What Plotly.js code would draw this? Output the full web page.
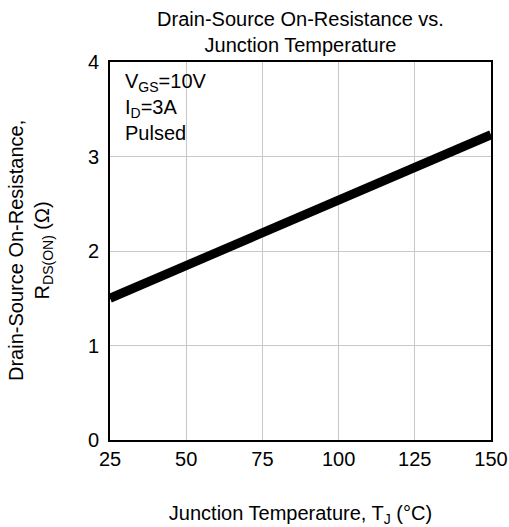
<!DOCTYPE html>
<html><head><meta charset="utf-8">
<script src="https://cdn.plot.ly/plotly-3.0.1.min.js"></script>
<style>body{margin:0;background:#fff}#c{width:509px;height:527px}</style>
</head><body><div id="c"></div>
<script>
const tempC = [25, 150];
const rdsOn = [1.50, 3.23];
const xTicks = [25, 50, 75, 100, 125, 150];
const yTicks = [0, 1, 2, 3, 4];
const F = 'Liberation Sans, Arial, sans-serif';
const FS = 20;
Plotly.newPlot('c', [{
  x: tempC, y: rdsOn, mode: 'lines', type: 'scatter',
  line: {color: '#000', width: 9}, hoverinfo: 'none'
}], {
  width: 509, height: 527,
  margin: {l: 110, r: 18, t: 62, b: 87},
  paper_bgcolor: '#fff', plot_bgcolor: '#fff',
  showlegend: false,
  font: {family: F, size: FS, color: '#000'},
  title: {text: 'Drain-Source On-Resistance vs.<br>Junction Temperature', font: {family: F, size: FS, color: '#000'},
    xref: 'paper', x: 0.5, xanchor: 'center', yref: 'container', y: 1 - 26/527, yanchor: 'top'},
  xaxis: {range: [25, 150], tickvals: xTicks, ticktext: xTicks.map(String), showgrid: true, gridcolor: '#c8c8c8', gridwidth: 1,
    zeroline: false, showline: true, linecolor: '#000', linewidth: 2, mirror: true, ticks: '', ticklen: 0,
    tickfont: {family: F, size: FS, color: '#000'},
    title: {text: 'Junction Temperature, T<sub>J</sub> (°C)', font: {family: F, size: FS, color: '#000'}, standoff: 41}},
  yaxis: {range: [0, 4], tickvals: yTicks, ticktext: yTicks.map(String), showgrid: true, gridcolor: '#c8c8c8', gridwidth: 1,
    zeroline: false, showline: true, linecolor: '#000', linewidth: 2, mirror: true, ticks: '', ticklen: 0,
    ticklabelstandoff: 5,
    tickfont: {family: F, size: FS, color: '#000'}},
  annotations: [{
    text: 'V<sub>GS</sub>=10V<br>I<sub>D</sub>=3A<br>Pulsed', xref: 'paper', yref: 'paper', x: 0.033, y: 0.985,
    xanchor: 'left', yanchor: 'top', align: 'left', showarrow: false, font: {family: F, size: FS, color: '#000'}
  }, {
    text: 'Drain-Source On-Resistance,<br>R<sub>DS(ON)</sub> (Ω)', xref: 'paper', yref: 'paper', x: 0, y: 0.5,
    xanchor: 'center', yanchor: 'middle', xshift: -80, textangle: -90, showarrow: false,
    font: {family: F, size: FS, color: '#000'}
  }]
}, {staticPlot: true});
</script></body></html>
